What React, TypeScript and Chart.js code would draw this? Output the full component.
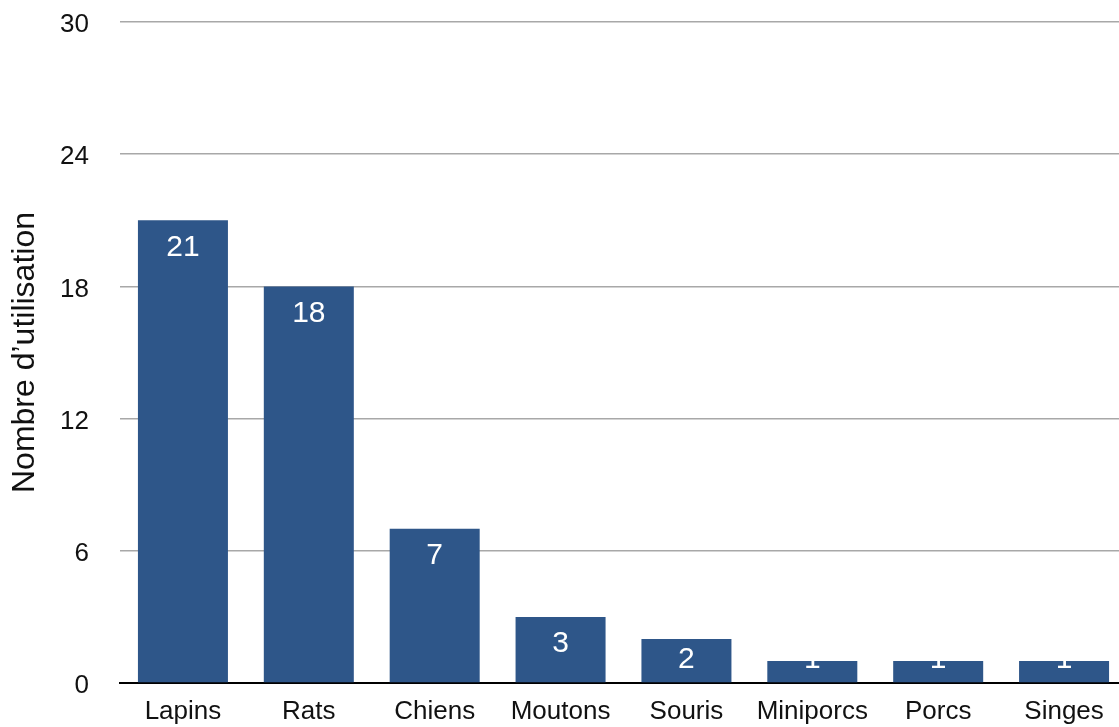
import React, { useEffect, useRef } from "react";
import { Chart, registerables } from "chart.js";

Chart.register(...registerables);

const categories = ["Lapins", "Rats", "Chiens", "Moutons", "Souris", "Miniporcs", "Porcs", "Singes"];
const values = [21, 18, 7, 3, 2, 1, 1, 1];
const yMin = 0;
const yMax = 30;
const yStep = 6;
const yTitle = "Nombre d’utilisation";

const FONT = "'Liberation Sans', Arial, Helvetica, sans-serif";
const TEXT = "#111111";
const BAR = "#2E5689";

const valueLabels = {
  id: "valueLabels",
  afterDatasetsDraw(chart: any) {
    const ctx = chart.ctx;
    const meta = chart.getDatasetMeta(0);
    const ds = chart.data.datasets[0];
    ctx.save();
    ctx.fillStyle = "#ffffff";
    ctx.font = `30px ${FONT}`;
    ctx.textAlign = "center";
    ctx.textBaseline = "alphabetic";
    meta.data.forEach((bar: any, i: number) => {
      const top = bar.y;
      const base = bar.base;
      const cy = Math.min(top + 24.5, base - 24.5);
      ctx.fillText(String(ds.data[i]), bar.x, cy + 30 * 0.358);
    });
    ctx.restore();
  },
};

export default function App() {
  const ref = useRef<HTMLCanvasElement | null>(null);

  useEffect(() => {
    document.body.style.margin = "0";
    if (!ref.current) return;
    const chart = new Chart(ref.current, {
      type: "bar",
      data: {
        labels: categories,
        datasets: [
          {
            data: values,
            backgroundColor: BAR,
            borderWidth: 0,
            categoryPercentage: 1,
            barPercentage: 0.715,
          },
        ],
      },
      options: {
        responsive: false,
        animation: false,
        devicePixelRatio: 1,
        layout: { padding: { top: 22, left: 0, right: 0, bottom: 0 } },
        plugins: {
          legend: { display: false },
          tooltip: { enabled: false },
        },
        scales: {
          x: {
            grid: { display: false, drawTicks: false },
            border: { display: true, color: "#000000", width: 2 },
            ticks: {
              font: { family: FONT, size: 26 },
              color: TEXT,
              padding: 13,
              maxRotation: 0,
              autoSkip: false,
            },
            afterFit: (s: any) => {
              s.height = 44;
              s.paddingLeft = 0;
              s.paddingRight = 0;
            },
          },
          y: {
            min: yMin,
            max: yMax,
            ticks: {
              stepSize: yStep,
              font: { family: FONT, size: 26 },
              color: TEXT,
              padding: 31,
              labelOffset: 3,
            },
            grid: { color: "#a8a8a8", lineWidth: 1.5, drawTicks: false },
            border: { display: false },
            title: {
              display: true,
              text: yTitle,
              font: { family: FONT, size: 32 },
              color: TEXT,
              padding: { top: 6, bottom: 0 },
            },
            afterFit: (s: any) => {
              s.width = 120;
              s.paddingTop = 0;
              s.paddingBottom = 0;
            },
          },
        },
      },
      plugins: [valueLabels],
    });
    return () => chart.destroy();
  }, []);

  return (
    <div style={{ width: 1119, height: 727, overflow: "hidden", position: "relative" }}>
      <canvas ref={ref} width={1127} height={727} style={{ width: 1127, height: 727, display: "block" }} />
    </div>
  );
}
